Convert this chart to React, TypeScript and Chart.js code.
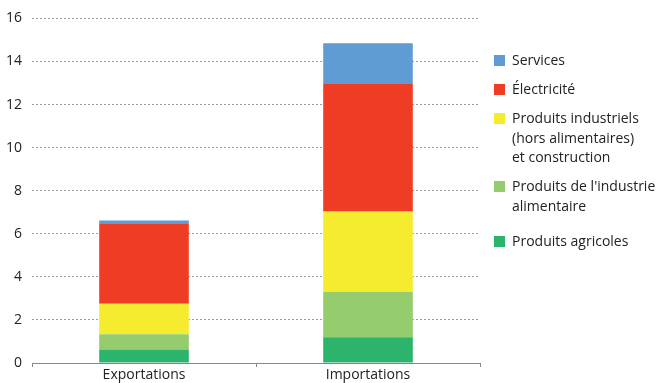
import React, { useEffect, useRef } from "react";
import { Chart, registerables } from "chart.js";

Chart.register(...registerables);

const categories = ["Exportations", "Importations"];
const agricoles = [0.63, 1.2];
const alimentaire = [0.7, 2.1];
const industriels = [1.42, 3.74];
const electricite = [3.7, 5.91];
const services = [0.17, 1.9];
const yTicks = [0, 2, 4, 6, 8, 10, 12, 14, 16];

const seriesNames = [
  "Produits agricoles",
  "Produits de l'industrie alimentaire",
  "Produits industriels (hors alimentaires) et construction",
  "Électricité",
  "Services",
];
const colors = ["#2db46c", "#95cc6e", "#f6ec2f", "#ef3d25", "#5f9cd4"];

const legendItems = [
  { lines: ["Services"], color: colors[4], top: 55 },
  { lines: ["Électricité"], color: colors[3], top: 84 },
  { lines: ["Produits industriels", "(hors alimentaires)", "et construction"], color: colors[2], top: 113 },
  { lines: ["Produits de l'industrie", "alimentaire"], color: colors[1], top: 181 },
  { lines: ["Produits agricoles"], color: colors[0], top: 236 },
];

const FONT = "'Open Sans', 'Noto Sans', sans-serif";

export default function App() {
  const ref = useRef<HTMLCanvasElement | null>(null);

  useEffect(() => {
    if (!ref.current) return;
    const values = [agricoles, alimentaire, industriels, electricite, services];
    const chart = new Chart(ref.current, {
      type: "bar",
      data: {
        labels: categories,
        datasets: values.map((v, i) => ({
          label: seriesNames[i],
          data: v,
          backgroundColor: colors[i],
          borderWidth: 0,
          categoryPercentage: 1,
          barPercentage: 0.4,
        })),
      },
      options: {
        responsive: false,
        animation: false,
        layout: { padding: { left: 0, right: 179, top: 17, bottom: 0 } },
        plugins: { legend: { display: false }, tooltip: { enabled: false } },
        scales: {
          x: {
            stacked: true,
            border: { display: true, color: "#888", width: 1 },
            grid: {
              display: true,
              drawOnChartArea: false,
              drawTicks: true,
              tickLength: 4,
              color: "#888",
            },
            ticks: { color: "#222", font: { family: FONT, size: 14 }, padding: 0 },
            afterFit: (s: any) => {
              s.height = 20;
            },
          },
          y: {
            stacked: true,
            min: 0,
            max: 16,
            afterBuildTicks: (s: any) => {
              s.ticks = yTicks.map((v) => ({ value: v }));
            },
            border: { display: false, dash: [2, 2] },
            grid: {
              drawTicks: false,
              color: (c: any) => (c.tick && c.tick.value === 0 ? "rgba(0,0,0,0)" : "#9a9a9a"),
              lineWidth: 1,
            },
            ticks: { color: "#222", font: { family: FONT, size: 14 }, padding: 10 },
            afterFit: (s: any) => {
              s.width = 32;
            },
          },
        },
      },
    });
    return () => chart.destroy();
  }, []);

  return (
    <div style={{ position: "absolute", left: 0, top: 0, width: 659, height: 383, background: "#fff" }}>
      <canvas ref={ref} width={659} height={383} style={{ display: "block", width: 659, height: 383 }} />
      {legendItems.map((it, i) => (
        <div key={i} style={{ position: "absolute", left: 494, top: it.top }}>
          <div style={{ position: "absolute", left: 0, top: 0, width: 11, height: 11, background: it.color }} />
          <div
            style={{
              position: "absolute",
              left: 18,
              top: -5,
              whiteSpace: "nowrap",
              fontFamily: FONT,
              fontSize: 14,
              lineHeight: "19.5px",
              color: "#222",
            }}
          >
            {it.lines.map((l, j) => (
              <div key={j}>{l}</div>
            ))}
          </div>
        </div>
      ))}
    </div>
  );
}
